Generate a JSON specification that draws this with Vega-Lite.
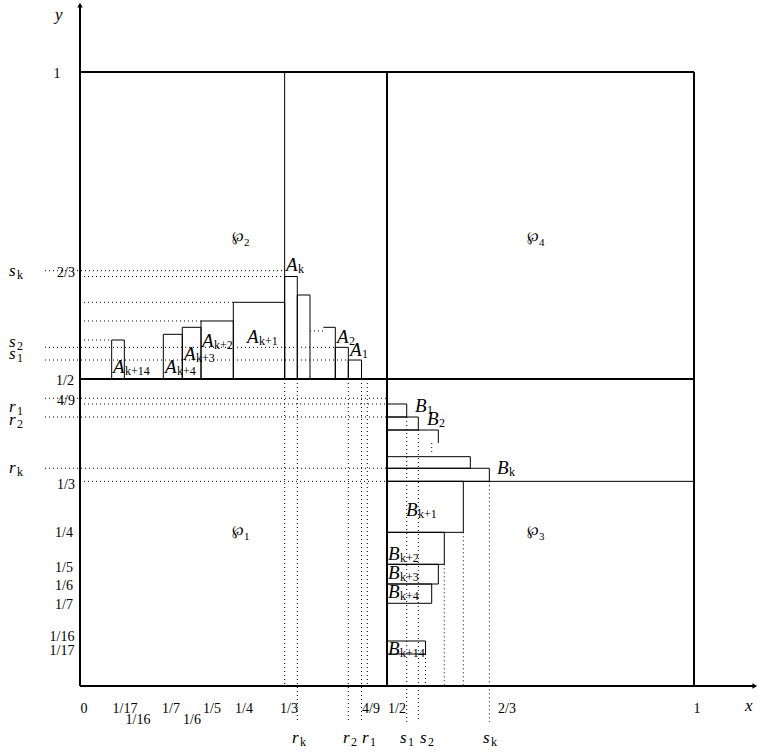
{
  "$schema": "https://vega.github.io/schema/vega-lite/v6.json",
  "width": 759,
  "height": 755,
  "padding": 0,
  "autosize": {"type": "fit", "contains": "padding"},
  "background": "white",
  "config": {"view": {"stroke": null}},
  "datasets": {
    "thick": [
      {"x": 0, "x2": 0, "y": 0, "y2": 1.109},
      {"x": 0, "x2": 1.099, "y": 0, "y2": 0},
      {"x": 0.5, "x2": 0.5, "y": 0, "y2": 1},
      {"x": 1, "x2": 1, "y": 0, "y2": 1},
      {"x": 0, "x2": 1, "y": 1, "y2": 1},
      {"x": 0, "x2": 1, "y": 0.5, "y2": 0.5}
    ],
    "thin": [
      {"x": 0.3333, "x2": 0.3333, "y": 0.5, "y2": 1},
      {"x": 0.5, "x2": 1, "y": 0.3333, "y2": 0.3333},
      {"x": 0.3963, "x2": 0.4158, "y": 0.5842, "y2": 0.5842},
      {"x": 0.4158, "x2": 0.4158, "y": 0.5, "y2": 0.5842},
      {"x": 0.5, "x2": 0.5836, "y": 0.4169, "y2": 0.4169},
      {"x": 0.5836, "x2": 0.5836, "y": 0.4169, "y2": 0.3958}
    ],
    "rects": [
      {"x": 0.0516, "x2": 0.0722, "y": 0.5, "y2": 0.5635},
      {"x": 0.1357, "x2": 0.1666, "y": 0.5, "y2": 0.5728},
      {"x": 0.1666, "x2": 0.1971, "y": 0.5, "y2": 0.5842},
      {"x": 0.1971, "x2": 0.2497, "y": 0.5, "y2": 0.5945},
      {"x": 0.2497, "x2": 0.3333, "y": 0.5, "y2": 0.6249},
      {"x": 0.3333, "x2": 0.3539, "y": 0.5, "y2": 0.6669},
      {"x": 0.3539, "x2": 0.3746, "y": 0.5, "y2": 0.6368},
      {"x": 0.4158, "x2": 0.437, "y": 0.5, "y2": 0.5516},
      {"x": 0.437, "x2": 0.4585, "y": 0.5, "y2": 0.5309},
      {"x": 0.5, "x2": 0.5321, "y": 0.4381, "y2": 0.4593},
      {"x": 0.5, "x2": 0.551, "y": 0.4169, "y2": 0.4381},
      {"x": 0.5, "x2": 0.6357, "y": 0.3546, "y2": 0.3735},
      {"x": 0.5, "x2": 0.6667, "y": 0.3333, "y2": 0.3546},
      {"x": 0.5, "x2": 0.6243, "y": 0.2503, "y2": 0.3333},
      {"x": 0.5, "x2": 0.5933, "y": 0.1982, "y2": 0.2503},
      {"x": 0.5, "x2": 0.5836, "y": 0.1661, "y2": 0.1982},
      {"x": 0.5, "x2": 0.5728, "y": 0.1347, "y2": 0.1661},
      {"x": 0.5, "x2": 0.5627, "y": 0.0521, "y2": 0.0733}
    ],
    "dots": [
      {"x": -0.057, "x2": 0.3333, "y": 0.6764, "y2": 0.6764},
      {"x": 0, "x2": 0.3333, "y": 0.6669, "y2": 0.6669},
      {"x": 0, "x2": 0.2497, "y": 0.6249, "y2": 0.6249},
      {"x": 0, "x2": 0.1971, "y": 0.5945, "y2": 0.5945},
      {"x": 0, "x2": 0.0516, "y": 0.5635, "y2": 0.5635},
      {"x": -0.057, "x2": 0.4158, "y": 0.5516, "y2": 0.5516},
      {"x": -0.057, "x2": 0.437, "y": 0.5309, "y2": 0.5309},
      {"x": 0.3746, "x2": 0.3963, "y": 0.5782, "y2": 0.5782},
      {"x": -0.057, "x2": 0.5, "y": 0.4686, "y2": 0.4686},
      {"x": 0, "x2": 0.5, "y": 0.4593, "y2": 0.4593},
      {"x": -0.057, "x2": 0.5, "y": 0.4381, "y2": 0.4381},
      {"x": -0.057, "x2": 0.5, "y": 0.3546, "y2": 0.3546},
      {"x": 0, "x2": 0.5, "y": 0.3333, "y2": 0.3333},
      {"x": 0.3333, "x2": 0.3333, "y": 0.5, "y2": 0},
      {"x": 0.3539, "x2": 0.3539, "y": 0.5, "y2": -0.0586},
      {"x": 0.437, "x2": 0.437, "y": 0.5, "y2": -0.0586},
      {"x": 0.4585, "x2": 0.4585, "y": 0.5, "y2": -0.0586},
      {"x": 0.4679, "x2": 0.4679, "y": 0.5, "y2": 0},
      {"x": 0.5321, "x2": 0.5321, "y": 0.4381, "y2": -0.0586},
      {"x": 0.551, "x2": 0.551, "y": 0.4169, "y2": -0.0586},
      {"x": 0.5728, "x2": 0.5728, "y": 0.3958, "y2": 0.3762},
      {"x": 0.5627, "x2": 0.5627, "y": 0.0521, "y2": 0},
      {"x": 0.5933, "x2": 0.5933, "y": 0.1982, "y2": 0},
      {"x": 0.6243, "x2": 0.6243, "y": 0.2503, "y2": 0},
      {"x": 0.6667, "x2": 0.6667, "y": 0.3333, "y2": -0.0586}
    ],
    "arrows": [
      {"x": 0, "y": 1.109, "sh": "up"},
      {"x": 1.099, "y": 0, "sh": "right"}
    ],
    "ticks": [
      {"x": 0.0065, "y": -0.0375, "t": "0"},
      {"x": 0.0733, "y": -0.0375, "t": "1/17"},
      {"x": 0.0945, "y": -0.0553, "t": "1/16"},
      {"x": 0.1482, "y": -0.0375, "t": "1/7"},
      {"x": 0.1824, "y": -0.0553, "t": "1/6"},
      {"x": 0.215, "y": -0.0375, "t": "1/5"},
      {"x": 0.2671, "y": -0.0375, "t": "1/4"},
      {"x": 0.3404, "y": -0.0375, "t": "1/3"},
      {"x": 0.4739, "y": -0.0375, "t": "4/9"},
      {"x": 0.5163, "y": -0.0375, "t": "1/2"},
      {"x": 0.6954, "y": -0.0375, "t": "2/3"},
      {"x": 1.0049, "y": -0.0375, "t": "1"},
      {"x": -0.0375, "y": 0.9967, "t": "1"},
      {"x": -0.0228, "y": 0.6726, "t": "2/3"},
      {"x": -0.0244, "y": 0.4967, "t": "1/2"},
      {"x": -0.0228, "y": 0.4642, "t": "4/9"},
      {"x": -0.0228, "y": 0.3274, "t": "1/3"},
      {"x": -0.0261, "y": 0.2492, "t": "1/4"},
      {"x": -0.0261, "y": 0.1922, "t": "1/5"},
      {"x": -0.0261, "y": 0.1629, "t": "1/6"},
      {"x": -0.0261, "y": 0.1319, "t": "1/7"},
      {"x": -0.0293, "y": 0.0798, "t": "1/16"},
      {"x": -0.0293, "y": 0.057, "t": "1/17"}
    ],
    "vars": [
      {"x": -0.0407, "y": 1.0847, "b": "y", "s": ""},
      {"x": 1.0831, "y": -0.0407, "b": "x", "s": ""},
      {"x": -0.1156, "y": 0.6678, "b": "s", "s": "k"},
      {"x": -0.1156, "y": 0.5521, "b": "s", "s": "2"},
      {"x": -0.1156, "y": 0.5326, "b": "s", "s": "1"},
      {"x": -0.1156, "y": 0.4463, "b": "r", "s": "1"},
      {"x": -0.1156, "y": 0.4251, "b": "r", "s": "2"},
      {"x": -0.1156, "y": 0.3469, "b": "r", "s": "k"},
      {"x": 0.3453, "y": -0.0928, "b": "r", "s": "k"},
      {"x": 0.4283, "y": -0.0928, "b": "r", "s": "2"},
      {"x": 0.4593, "y": -0.0928, "b": "r", "s": "1"},
      {"x": 0.5212, "y": -0.0928, "b": "s", "s": "1"},
      {"x": 0.5537, "y": -0.0928, "b": "s", "s": "2"},
      {"x": 0.6564, "y": -0.0928, "b": "s", "s": "k"}
    ],
    "labels": [
      {"x": 0.3355, "y": 0.6759, "b": "A", "s": "k"},
      {"x": 0.272, "y": 0.5586, "b": "A", "s": "k+1"},
      {"x": 0.1987, "y": 0.5521, "b": "A", "s": "k+2"},
      {"x": 0.1694, "y": 0.5309, "b": "A", "s": "k+3"},
      {"x": 0.1384, "y": 0.5098, "b": "A", "s": "k+4"},
      {"x": 0.0537, "y": 0.5098, "b": "A", "s": "k+14"},
      {"x": 0.4186, "y": 0.5586, "b": "A", "s": "2"},
      {"x": 0.4397, "y": 0.5375, "b": "A", "s": "1"},
      {"x": 0.5456, "y": 0.4463, "b": "B", "s": "1"},
      {"x": 0.5651, "y": 0.4251, "b": "B", "s": "2"},
      {"x": 0.6792, "y": 0.3453, "b": "B", "s": "k"},
      {"x": 0.5309, "y": 0.2769, "b": "B", "s": "k+1"},
      {"x": 0.5016, "y": 0.2052, "b": "B", "s": "k+2"},
      {"x": 0.5016, "y": 0.1743, "b": "B", "s": "k+3"},
      {"x": 0.5016, "y": 0.1433, "b": "B", "s": "k+4"},
      {"x": 0.5016, "y": 0.0505, "b": "B", "s": "k+14"}
    ],
    "wp": [
      {"x": 0.2476, "y": 0.7248, "b": "℘", "s": "2"},
      {"x": 0.728, "y": 0.7248, "b": "℘", "s": "4"},
      {"x": 0.2476, "y": 0.2459, "b": "℘", "s": "1"},
      {"x": 0.728, "y": 0.2459, "b": "℘", "s": "3"}
    ]
  },
  "encoding": {
    "x": {"field": "x", "type": "quantitative", "axis": null, "scale": {"domain": [-0.130293, 1.105863], "nice": false, "zero": false}},
    "y": {"field": "y", "type": "quantitative", "axis": null, "scale": {"domain": [-0.112378, 1.117264], "nice": false, "zero": false}}
  },
  "layer": [
    {
      "data": {"name": "dots"},
      "mark": {"type": "rule", "color": "black", "strokeWidth": 1, "strokeDash": [1, 3]},
      "encoding": {"x2": {"field": "x2"}, "y2": {"field": "y2"}}
    },
    {
      "data": {"name": "rects"},
      "mark": {"type": "rect", "fill": "transparent", "stroke": "black", "strokeWidth": 1},
      "encoding": {"x2": {"field": "x2"}, "y2": {"field": "y2"}}
    },
    {
      "data": {"name": "thin"},
      "mark": {"type": "rule", "color": "black", "strokeWidth": 1},
      "encoding": {"x2": {"field": "x2"}, "y2": {"field": "y2"}}
    },
    {
      "data": {"name": "thick"},
      "mark": {"type": "rule", "color": "black", "strokeWidth": 2},
      "encoding": {"x2": {"field": "x2"}, "y2": {"field": "y2"}}
    },
    {
      "data": {"name": "arrows"},
      "mark": {"type": "point", "filled": true, "color": "black", "size": 30, "opacity": 1},
      "encoding": {"shape": {"field": "sh", "type": "nominal", "legend": null, "scale": {"domain": ["up", "right"], "range": ["triangle-up", "triangle-right"]}}}
    },
    {
      "data": {"name": "ticks"},
      "mark": {"type": "text", "align": "center", "baseline": "middle", "font": "Liberation Serif", "fontSize": 14, "color": "black"},
      "encoding": {"text": {"field": "t"}}
    },
    {
      "data": {"name": "vars"},
      "mark": {"type": "text", "align": "left", "baseline": "alphabetic", "font": "Liberation Serif", "fontStyle": "italic", "fontSize": 17, "color": "black"},
      "encoding": {"text": {"field": "b"}}
    },
    {
      "data": {"name": "vars"},
      "mark": {"type": "text", "align": "left", "baseline": "alphabetic", "font": "Liberation Serif", "fontSize": 12, "dx": 8, "dy": 3, "color": "black"},
      "encoding": {"text": {"field": "s"}}
    },
    {
      "data": {"name": "labels"},
      "mark": {"type": "text", "align": "left", "baseline": "alphabetic", "font": "Liberation Serif", "fontStyle": "italic", "fontSize": 19, "color": "black"},
      "encoding": {"text": {"field": "b"}}
    },
    {
      "data": {"name": "labels"},
      "mark": {"type": "text", "align": "left", "baseline": "alphabetic", "font": "Liberation Serif", "fontSize": 12, "dx": 12, "dy": 2, "color": "black"},
      "encoding": {"text": {"field": "s"}}
    },
    {
      "data": {"name": "wp"},
      "mark": {"type": "text", "align": "left", "baseline": "alphabetic", "font": "DejaVu Serif", "fontSize": 14, "color": "black"},
      "encoding": {"text": {"field": "b"}}
    },
    {
      "data": {"name": "wp"},
      "mark": {"type": "text", "align": "left", "baseline": "alphabetic", "font": "Liberation Serif", "fontSize": 11, "dx": 12, "dy": 5, "color": "black"},
      "encoding": {"text": {"field": "s"}}
    }
  ]
}
